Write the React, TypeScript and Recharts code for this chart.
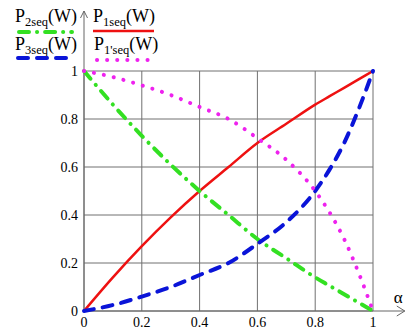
import { LineChart, Line, XAxis, YAxis, CartesianGrid, ReferenceLine, Legend } from "recharts"

// alpha sample points (x)
const alpha = [0, 0.1, 0.2, 0.3, 0.4, 0.5, 0.6, 0.7, 0.8, 0.85, 0.9, 0.95, 1]
// P1seq(W) - solid red
const p1 = [0, 0.14, 0.27, 0.39, 0.5, 0.6, 0.7, 0.78, 0.86, 0.895, 0.93, 0.965, 1]
// P2seq(W) - green dash-dot
const p2 = [1, 0.86, 0.73, 0.61, 0.5, 0.4, 0.3, 0.22, 0.14, 0.105, 0.07, 0.035, 0]
// P3seq(W) - blue dashed
const p3 = [0, 0.025, 0.06, 0.1, 0.15, 0.2, 0.28, 0.37, 0.5, 0.59, 0.7, 0.84, 1]
// P1'seq(W) - magenta dotted
const p1p = [1, 0.975, 0.94, 0.9, 0.85, 0.8, 0.72, 0.63, 0.5, 0.41, 0.3, 0.16, 0]

const ticks = [0, 0.2, 0.4, 0.6, 0.8, 1]

const data = alpha.map((a, i) => ({ a, p1: p1[i], p2: p2[i], p3: p3[i], p1p: p1p[i] }))

const RED = "#ee1111"
const GREEN = "#33e022"
const BLUE = "#0a14d8"
const MAGENTA = "#ee22ee"
const AXIS = "#666"
const FONT = "'Liberation Serif', 'Times New Roman', serif"

function XArrow(props: any) {
  const vb = props.viewBox
  const x = vb.x + vb.width
  const y = vb.y
  return (
    <g>
      <path d={`M${x - 8},${y - 5}L${x},${y}L${x - 8},${y + 5}`} fill="none" stroke={AXIS} strokeWidth={1} />
      <text x={x - 11} y={y - 8} fontSize={17} style={{ fontFamily: FONT }} fill="#000">α</text>
    </g>
  )
}

function YArrow(props: any) {
  const vb = props.viewBox
  const x = vb.x
  const y = vb.y
  return <path d={`M${x - 3.5},${y + 7}L${x},${y}L${x + 3.5},${y + 7}`} fill="none" stroke={AXIS} strokeWidth={1} />
}

function Label({ x, y, sub }: { x: number; y: number; sub: string }) {
  return (
    <text x={x} y={y} fontSize={18} style={{ fontFamily: FONT }} fill="#000">
      P<tspan fontSize={12.5} dy={4}>{sub}</tspan>
      <tspan dy={-4}>(W)</tspan>
    </text>
  )
}

function renderLegend() {
  return (
    <svg width={170} height={70} style={{ display: "block" }}>
      <Label x={15} y={22} sub="2seq" />
      <line x1={19} y1={32} x2={72} y2={32} stroke={GREEN} strokeWidth={4} strokeDasharray="10 8 0.1 8" strokeLinecap="round" />
      <Label x={93} y={22} sub="1seq" />
      <line x1={93} y1={31} x2={154} y2={31} stroke={RED} strokeWidth={2.5} />
      <Label x={15} y={50} sub="3seq" />
      <line x1={18} y1={58} x2={72} y2={58} stroke={BLUE} strokeWidth={4} strokeDasharray="10 9" strokeLinecap="round" />
      <Label x={94} y={50} sub="1'seq" />
      <line x1={97} y1={60} x2={155} y2={60} stroke={MAGENTA} strokeWidth={4} strokeDasharray="0.1 10" strokeLinecap="round" />
    </svg>
  )
}

export default function App() {
  return (
    <div style={{ position: "absolute", left: 0, top: 0, background: "#fff", fontFamily: FONT }}>
      <LineChart width={408} height={332} data={data} margin={{ top: 71, right: 35, bottom: 0, left: 0 }}>
        <CartesianGrid stroke="#707070" strokeWidth={1} />
        <XAxis
          dataKey="a"
          type="number"
          domain={[0, 1]}
          ticks={ticks}
          height={21}
          axisLine={false}
          tickLine={false}
          tickSize={0}
          tickMargin={6}
          tick={{ fontSize: 14, fill: "#000", style: { fontFamily: FONT } }}
        />
        <YAxis
          type="number"
          domain={[0, 1]}
          ticks={ticks}
          width={84}
          axisLine={false}
          tickLine={false}
          tickSize={0}
          tickMargin={6}
          tick={{ fontSize: 14, fill: "#000", style: { fontFamily: FONT } }}
        />
        <ReferenceLine segment={[{ x: 0, y: 0 }, { x: 1.11, y: 0 }]} stroke={AXIS} ifOverflow="visible" label={XArrow} />
        <ReferenceLine segment={[{ x: 0, y: 0 }, { x: 0, y: 1.25 }]} stroke={AXIS} ifOverflow="visible" label={YArrow} />
        <Line type="monotone" dataKey="p1" stroke={RED} strokeWidth={2.5} dot={false} activeDot={false} isAnimationActive={false} />
        <Line type="monotone" dataKey="p2" stroke={GREEN} strokeWidth={4} strokeDasharray="10 8 0.1 8" strokeLinecap="round" dot={false} activeDot={false} isAnimationActive={false} />
        <Line type="monotone" dataKey="p3" stroke={BLUE} strokeWidth={4} strokeDasharray="10 9" strokeLinecap="round" dot={false} activeDot={false} isAnimationActive={false} />
        <Line type="monotone" dataKey="p1p" stroke={MAGENTA} strokeWidth={4} strokeDasharray="0.1 10" strokeLinecap="round" dot={false} activeDot={false} isAnimationActive={false} />
        <Legend verticalAlign="middle" content={renderLegend} wrapperStyle={{ left: 0, top: 0, width: 170, height: 70 }} />
      </LineChart>
    </div>
  )
}
